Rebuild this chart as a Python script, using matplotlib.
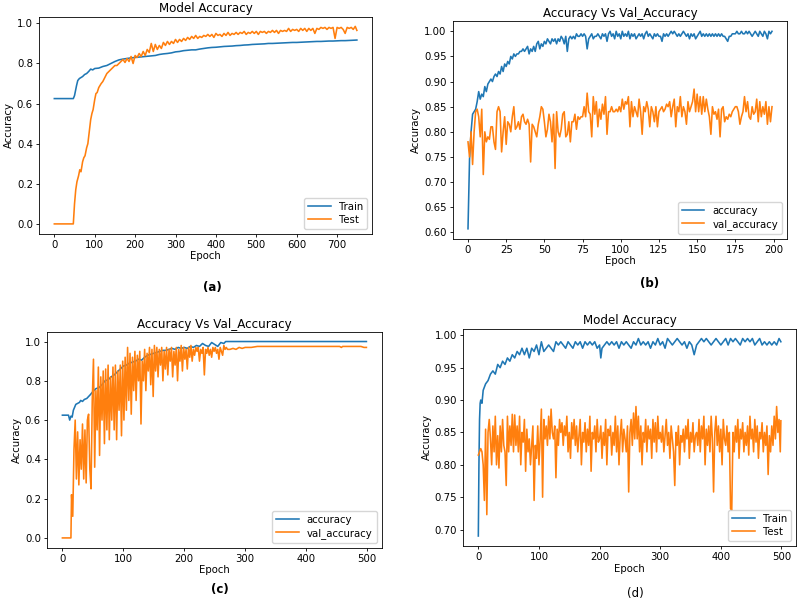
import matplotlib
matplotlib.use("Agg")
import matplotlib.pyplot as plt

# ======================================
# DATA
# ======================================

# (a) Model Accuracy, 750 epochs
a_train_epochs = [0, 10, 20, 30, 40, 47, 50, 55, 58, 62, 66, 70, 75, 80, 85, 90, 95,
                  100, 110, 120, 130, 140, 150, 160, 170, 180, 190, 200, 210, 220, 230,
                  240, 250, 260, 270, 280, 290, 300, 310, 320, 330, 340, 350, 360, 370,
                  380, 390, 400, 410, 420, 430, 440, 450, 460, 470, 480, 490, 500, 510,
                  520, 530, 540, 550, 560, 570, 580, 590, 600, 610, 620, 630, 640, 650,
                  660, 670, 680, 690, 700, 710, 720, 730, 740, 749]
a_train = [0.625, 0.625, 0.625, 0.625, 0.625, 0.625, 0.64, 0.69, 0.715, 0.725, 0.73,
           0.735, 0.745, 0.75, 0.76, 0.772, 0.768, 0.775, 0.777, 0.785, 0.79, 0.80,
           0.81, 0.818, 0.822, 0.825, 0.828, 0.83, 0.832, 0.834, 0.836, 0.838, 0.84,
           0.845, 0.848, 0.85, 0.853, 0.858, 0.86, 0.864, 0.866, 0.868, 0.868, 0.872,
           0.875, 0.878, 0.88, 0.881, 0.883, 0.885, 0.886, 0.887, 0.889, 0.89, 0.892,
           0.893, 0.895, 0.896, 0.897, 0.898, 0.90, 0.90, 0.901, 0.902, 0.903, 0.904,
           0.905, 0.905, 0.906, 0.907, 0.908, 0.909, 0.91, 0.91, 0.911, 0.912, 0.912,
           0.913, 0.914, 0.914, 0.915, 0.916, 0.917]

a_test_epochs = [0, 47, 50, 53, 56, 60, 63, 66, 70, 73, 76, 80, 83, 86, 90, 93, 96, 100,
                 103, 106, 110, 113, 116, 120] + list(range(125, 750, 5)) + [749]
a_test = [0.0, 0.0, 0.10, 0.17, 0.21, 0.24, 0.27, 0.26, 0.31, 0.33, 0.34, 0.38, 0.40,
          0.45, 0.52, 0.55, 0.57, 0.62, 0.65, 0.655, 0.68, 0.69, 0.70, 0.71,
          0.73, 0.75, 0.76, 0.77, 0.78, 0.79, 0.79, 0.80, 0.81, 0.82, 0.805, 0.825,
          0.81, 0.835, 0.80, 0.84, 0.83, 0.85, 0.835, 0.86, 0.84, 0.87, 0.855, 0.90,
          0.86, 0.895, 0.87, 0.89, 0.875, 0.905, 0.89, 0.91, 0.895, 0.91, 0.90, 0.92,
          0.905, 0.92, 0.91, 0.925, 0.915, 0.93, 0.92, 0.935, 0.925, 0.94, 0.925, 0.935,
          0.93, 0.94, 0.935, 0.945, 0.935, 0.945, 0.93, 0.95, 0.94, 0.945, 0.935, 0.95,
          0.94, 0.955, 0.94, 0.95, 0.945, 0.955, 0.945, 0.955, 0.95, 0.96, 0.945, 0.955,
          0.95, 0.96, 0.95, 0.96, 0.945, 0.96, 0.955, 0.96, 0.95, 0.96, 0.955, 0.965,
          0.955, 0.965, 0.95, 0.965, 0.96, 0.965, 0.96, 0.975, 0.96, 0.97, 0.965, 0.97,
          0.96, 0.975, 0.965, 0.975, 0.96, 0.975, 0.965, 0.975, 0.95, 0.975, 0.97, 0.98,
          0.975, 0.98, 0.97, 0.98, 0.975, 0.98, 0.925, 0.98, 0.975, 0.98, 0.97, 0.95,
          0.98, 0.975, 0.98, 0.97, 0.985, 0.965]

# (b) Accuracy Vs Val_Accuracy, 200 epochs
b_epochs = list(range(200))
b_acc = [0.607, 0.745, 0.80, 0.835, 0.84, 0.845, 0.86, 0.88, 0.865, 0.875,
         0.87, 0.89, 0.88, 0.895, 0.90, 0.905, 0.90, 0.91, 0.915, 0.91,
         0.92, 0.915, 0.93, 0.92, 0.935, 0.93, 0.94, 0.935, 0.95, 0.945,
         0.955, 0.95, 0.955, 0.955, 0.96, 0.96, 0.965, 0.96, 0.965, 0.97,
         0.955, 0.965, 0.96, 0.97, 0.96, 0.975, 0.98, 0.965, 0.975, 0.97,
         0.98, 0.975, 0.985, 0.98, 0.975, 0.985, 0.98, 0.985, 0.975, 0.985,
         0.98, 0.99, 0.985, 0.975, 0.99, 0.96, 0.985, 0.99, 0.985, 0.99,
         0.985, 0.995, 0.99, 0.99, 0.995, 0.99, 0.995, 0.99, 0.965, 0.985,
         0.99, 0.995, 0.985, 0.99, 0.99, 0.995, 0.99, 0.985, 0.995, 0.99,
         0.995, 0.98, 0.995, 1.0, 0.99, 0.995, 0.985, 1.0, 0.99, 0.995,
         0.985, 1.0, 0.99, 0.995, 0.99, 1.0, 0.985, 0.995, 0.99, 0.995,
         0.985, 0.99, 0.995, 0.99, 0.995, 0.985, 0.995, 1.0, 0.99, 0.995,
         0.99, 0.985, 0.995, 0.99, 0.995, 0.99, 0.99, 0.98, 0.995, 0.99,
         0.995, 0.99, 0.995, 1.0, 0.995, 1.0, 0.995, 0.99, 0.995, 0.99,
         0.995, 1.0, 0.995, 0.99, 0.995, 0.985, 0.995, 0.99, 0.995, 0.985,
         0.99, 0.995, 1.0, 0.99, 0.995, 0.99, 0.995, 0.99, 0.995, 0.99,
         0.995, 0.99, 0.995, 0.99, 0.995, 0.99, 0.995, 0.99, 0.99, 0.985,
         0.98, 0.99, 0.99, 0.995, 0.995, 0.995, 1.0, 0.995, 0.995, 1.0,
         0.995, 0.995, 1.0, 0.995, 1.0, 0.995, 0.99, 0.995, 1.0, 0.995,
         0.99, 1.0, 0.995, 0.99, 1.0, 0.995, 0.985, 1.0, 0.995, 1.0]
b_val = [0.78, 0.75, 0.80, 0.735, 0.80, 0.84, 0.845, 0.83, 0.79, 0.845,
         0.715, 0.80, 0.78, 0.79, 0.785, 0.81, 0.81, 0.78, 0.765, 0.84,
         0.85, 0.84, 0.76, 0.80, 0.83, 0.775, 0.82, 0.815, 0.80, 0.83,
         0.85, 0.805, 0.81, 0.82, 0.805, 0.83, 0.835, 0.82, 0.815, 0.825,
         0.815, 0.74, 0.815, 0.81, 0.80, 0.79, 0.815, 0.83, 0.85, 0.845,
         0.82, 0.79, 0.805, 0.835, 0.82, 0.78, 0.835, 0.727, 0.84, 0.80,
         0.79, 0.805, 0.835, 0.84, 0.79, 0.795, 0.82, 0.78, 0.82, 0.82,
         0.835, 0.805, 0.83, 0.825, 0.83, 0.83, 0.85, 0.83, 0.877, 0.84,
         0.835, 0.79, 0.87, 0.835, 0.86, 0.81, 0.845, 0.825, 0.855, 0.835,
         0.87, 0.795, 0.84, 0.84, 0.85, 0.84, 0.84, 0.845, 0.84, 0.85,
         0.84, 0.865, 0.845, 0.86, 0.855, 0.87, 0.81, 0.86, 0.83, 0.85,
         0.84, 0.83, 0.865, 0.84, 0.795, 0.85, 0.84, 0.86, 0.845, 0.81,
         0.85, 0.84, 0.82, 0.85, 0.81, 0.84, 0.845, 0.85, 0.84, 0.845,
         0.855, 0.85, 0.86, 0.83, 0.85, 0.865, 0.81, 0.85, 0.84, 0.87,
         0.83, 0.85, 0.84, 0.815, 0.86, 0.84, 0.85, 0.86, 0.885, 0.84,
         0.875, 0.84, 0.87, 0.835, 0.87, 0.84, 0.865, 0.845, 0.83, 0.795,
         0.85, 0.835, 0.84, 0.825, 0.845, 0.79, 0.845, 0.85, 0.82, 0.83,
         0.825, 0.835, 0.83, 0.84, 0.845, 0.85, 0.85, 0.84, 0.815, 0.83,
         0.84, 0.87, 0.84, 0.86, 0.83, 0.825, 0.85, 0.835, 0.84, 0.865,
         0.82, 0.86, 0.83, 0.85, 0.835, 0.86, 0.815, 0.85, 0.82, 0.85]

# (c) Accuracy Vs Val_Accuracy, 500 epochs
c_acc_epochs = [0, 5, 10, 12, 14, 16, 18, 20, 22, 25, 28, 30, 33, 36, 40, 43, 46, 50,
                55, 60, 65, 70, 75, 80, 85, 90, 95, 100, 105, 110, 115, 120, 125, 130,
                135, 140, 145, 150, 155, 160, 165, 170, 175, 180, 185, 190, 195, 200,
                205, 210, 215, 220, 225, 230, 235, 240, 245, 250, 255, 260, 265, 268,
                300, 400, 499]
c_acc = [0.625, 0.625, 0.625, 0.60, 0.62, 0.615, 0.65, 0.665, 0.68, 0.685, 0.69, 0.70,
         0.695, 0.705, 0.71, 0.72, 0.73, 0.745, 0.76, 0.765, 0.78, 0.80, 0.805, 0.82,
         0.83, 0.845, 0.86, 0.875, 0.88, 0.89, 0.895, 0.90, 0.91, 0.905, 0.92, 0.93,
         0.935, 0.94, 0.945, 0.95, 0.955, 0.955, 0.96, 0.965, 0.96, 0.97, 0.965, 0.97,
         0.965, 0.975, 0.97, 0.98, 0.975, 0.99, 0.98, 0.975, 0.995, 0.985, 0.975, 0.995,
         0.99, 1.0, 1.0, 1.0, 1.0]

c_val_epochs = [0, 14] + list(range(15, 272, 2)) + [275, 280, 285, 290, 295, 300, 310,
                                                   320, 350, 400, 455, 458, 460, 490,
                                                   495, 499]
c_val = [0.0, 0.0,
         0.22, 0.11, 0.45, 0.60, 0.30, 0.54, 0.27, 0.50, 0.35, 0.58,
         0.30, 0.55, 0.28, 0.60, 0.63, 0.35, 0.25, 0.70, 0.91, 0.36,
         0.75, 0.55, 0.87, 0.42, 0.82, 0.60, 0.85, 0.48, 0.86, 0.55,
         0.88, 0.50, 0.82, 0.60, 0.87, 0.55, 0.88, 0.50, 0.85, 0.65,
         0.88, 0.52, 0.90, 0.60, 0.92, 0.65, 0.97, 0.70, 0.94, 0.63,
         0.92, 0.75, 0.95, 0.70, 0.93, 0.80, 0.95, 0.58, 0.90, 0.80,
         0.96, 0.75, 0.94, 0.85, 0.97, 0.78, 0.96, 0.72, 0.98, 0.85,
         0.97, 0.82, 0.96, 0.88, 0.97, 0.80, 0.95, 0.86, 0.97, 0.83,
         0.96, 0.90, 0.97, 0.82, 0.95, 0.88, 0.97, 0.80, 0.96, 0.90,
         0.98, 0.85, 0.97, 0.91, 0.96, 0.86, 0.97, 0.92, 0.98, 0.90,
         0.96, 0.93, 0.97, 0.95, 0.97, 0.90, 0.96, 0.94, 0.97, 0.83,
         0.96, 0.94, 0.97, 0.93, 0.96, 0.92, 0.97, 0.95, 0.97, 0.94,
         0.96, 0.91, 0.97, 0.95, 0.93, 0.98, 0.96, 0.97, 0.96,
         0.96, 0.965, 0.96, 0.97, 0.965, 0.97, 0.97, 0.975, 0.975, 0.975,
         0.975, 0.97, 0.975, 0.975, 0.97, 0.97]

# (d) Model Accuracy, 500 epochs
d_train_epochs = [0, 1, 2, 3, 4, 6] + list(range(8, 201, 4)) + [202] + \
                 list(range(204, 497, 4)) + [499]
d_train = [0.69, 0.80, 0.87, 0.895, 0.90, 0.895,
           0.915, 0.925, 0.93, 0.94, 0.945, 0.94, 0.955, 0.95, 0.96, 0.955,
           0.965, 0.96, 0.97, 0.965, 0.975, 0.97, 0.98, 0.97, 0.98, 0.965,
           0.98, 0.975, 0.985, 0.97, 0.99, 0.975, 0.98, 0.985, 0.98, 0.975,
           0.99, 0.985, 0.99, 0.985, 0.98, 0.99, 0.985, 0.98, 0.99, 0.985,
           0.99, 0.98, 0.99, 0.985, 0.99, 0.985, 0.99, 0.98, 0.985,
           0.965,
           0.98, 0.985, 0.99, 0.985, 0.99, 0.985, 0.99, 0.98, 0.99, 0.985,
           0.99, 0.985, 0.98, 0.99, 0.985, 0.995, 0.985, 0.99, 0.985, 0.99,
           0.98, 0.99, 0.985, 0.995, 0.985, 0.99, 0.98, 0.995, 0.99, 0.985,
           0.99, 0.995, 0.99, 0.985, 0.99, 0.98, 0.99, 0.985, 0.97, 0.985,
           0.99, 0.995, 0.99, 0.995, 0.99, 0.985, 0.99, 0.995, 0.99, 0.985,
           0.99, 0.995, 0.985, 0.995, 0.99, 0.995, 0.99, 0.985, 0.995, 0.99,
           0.995, 0.99, 0.995, 0.985, 0.99, 0.995, 0.985, 0.99, 0.985, 0.99,
           0.985, 0.99, 0.985, 0.995,
           0.99]

d_test_epochs = list(range(0, 499, 2)) + [499]
d_test = [0.815, 0.82, 0.825, 0.82, 0.80, 0.745, 0.855, 0.723, 0.85, 0.87,
          0.84, 0.80, 0.86, 0.82, 0.875, 0.80, 0.845, 0.795, 0.86, 0.82,
          0.87, 0.83, 0.82, 0.768, 0.875, 0.82, 0.86, 0.83, 0.878, 0.82,
          0.877, 0.83, 0.86, 0.82, 0.875, 0.80, 0.85, 0.835, 0.87, 0.79,
          0.855, 0.82, 0.84, 0.80, 0.83, 0.86, 0.745, 0.83, 0.81, 0.86,
          0.80, 0.84, 0.886, 0.75, 0.87, 0.84, 0.86, 0.83, 0.875, 0.84,
          0.886, 0.85, 0.84, 0.86, 0.78, 0.855, 0.83, 0.87, 0.85, 0.865,
          0.83, 0.86, 0.845, 0.875, 0.82, 0.85, 0.81, 0.865, 0.84, 0.87,
          0.83, 0.86, 0.82, 0.845, 0.87, 0.80, 0.85, 0.835, 0.865, 0.82,
          0.855, 0.83, 0.875, 0.79, 0.85, 0.84, 0.86, 0.82, 0.87, 0.835,
          0.84, 0.86, 0.81, 0.85, 0.83, 0.87, 0.80, 0.855, 0.845, 0.86,
          0.815, 0.85, 0.83, 0.875, 0.82, 0.86, 0.80, 0.845, 0.87, 0.82,
          0.855, 0.84, 0.82, 0.86, 0.758, 0.85, 0.87, 0.83, 0.88, 0.84,
          0.89, 0.84, 0.875, 0.82, 0.86, 0.80, 0.85, 0.835, 0.87, 0.82,
          0.86, 0.84, 0.855, 0.81, 0.87, 0.835, 0.865, 0.82, 0.875, 0.84,
          0.85, 0.835, 0.86, 0.82, 0.845, 0.87, 0.83, 0.85, 0.81, 0.86,
          0.84, 0.82, 0.768, 0.85, 0.83, 0.86, 0.80, 0.845, 0.835, 0.855,
          0.82, 0.86, 0.84, 0.87, 0.81, 0.85, 0.835, 0.865, 0.82, 0.845,
          0.85, 0.83, 0.87, 0.82, 0.86, 0.84, 0.875, 0.80, 0.855, 0.83,
          0.86, 0.82, 0.875, 0.84, 0.758, 0.85, 0.875, 0.83, 0.86, 0.82,
          0.855, 0.80, 0.87, 0.84, 0.83, 0.86, 0.82, 0.85, 0.732, 0.73,
          0.85, 0.82, 0.86, 0.835, 0.87, 0.81, 0.855, 0.84, 0.865, 0.82,
          0.85, 0.83, 0.86, 0.815, 0.875, 0.84, 0.855, 0.82, 0.87, 0.835,
          0.86, 0.81, 0.85, 0.84, 0.865, 0.82, 0.85, 0.83, 0.86, 0.785,
          0.845, 0.82, 0.86, 0.83, 0.875, 0.84, 0.89, 0.85, 0.87, 0.82,
          0.868]

AZUL = "#1f77b4"
NARANJA = "#ff7f0e"
TICK_FS = 7.3
LABEL_FS = 7.3
TITLE_FS = 8.6

# ======================================
# FIGURE
# ======================================

fig = plt.figure(figsize=(8, 6.12), dpi=100)


def panel(rect, titulo, series, nombres):
    ax = fig.add_axes(rect)
    for (x, y), color, nombre in zip(series, [AZUL, NARANJA], nombres):
        ax.plot(x, y, color=color, linewidth=1.15, label=nombre)
    ax.set_title(titulo, fontsize=TITLE_FS, pad=3)
    ax.set_xlabel("Epoch", fontsize=LABEL_FS, labelpad=1)
    ax.set_ylabel("Accuracy", fontsize=LABEL_FS, labelpad=2)
    ax.tick_params(labelsize=TICK_FS, length=2.5, pad=2, width=0.6)
    for s in ax.spines.values():
        s.set_linewidth(0.6)
    ax.legend(loc="lower right", fontsize=TICK_FS, handlelength=2.2,
              borderpad=0.4, labelspacing=0.3)
    return ax


ax_a = panel([0.049, 0.618, 0.416, 0.355], "Model Accuracy",
             [(a_train_epochs, a_train), (a_test_epochs, a_test)], ["Train", "Test"])
ax_b = panel([0.566, 0.610, 0.418, 0.355], "Accuracy Vs Val_Accuracy",
             [(b_epochs, b_acc), (b_epochs, b_val)], ["accuracy", "val_accuracy"])
ax_c = panel([0.059, 0.105, 0.418, 0.353], "Accuracy Vs Val_Accuracy",
             [(c_acc_epochs, c_acc), (c_val_epochs, c_val)], ["accuracy", "val_accuracy"])
ax_d = panel([0.579, 0.108, 0.416, 0.355], "Model Accuracy",
             [(d_train_epochs, d_train), (d_test_epochs, d_test)], ["Train", "Test"])

ax_b.set_yticks([0.60, 0.65, 0.70, 0.75, 0.80, 0.85, 0.90, 0.95, 1.00])
ax_b.set_yticklabels([f"{v:.2f}" for v in ax_b.get_yticks()])

# captions
fig.text(212 / 800, 1 - 287 / 612, "(a)", ha="center", va="center", fontsize=8.5, fontweight="bold")
fig.text(650 / 800, 1 - 284 / 612, "(b)", ha="center", va="center", fontsize=8.5, fontweight="bold")
fig.text(220 / 800, 1 - 590 / 612, "(c)", ha="center", va="center", fontsize=8.5, fontweight="bold")
fig.text(635 / 800, 1 - 594 / 612, "(d)", ha="center", va="center", fontsize=8.5)

fig.savefig("out.png", dpi=100)
